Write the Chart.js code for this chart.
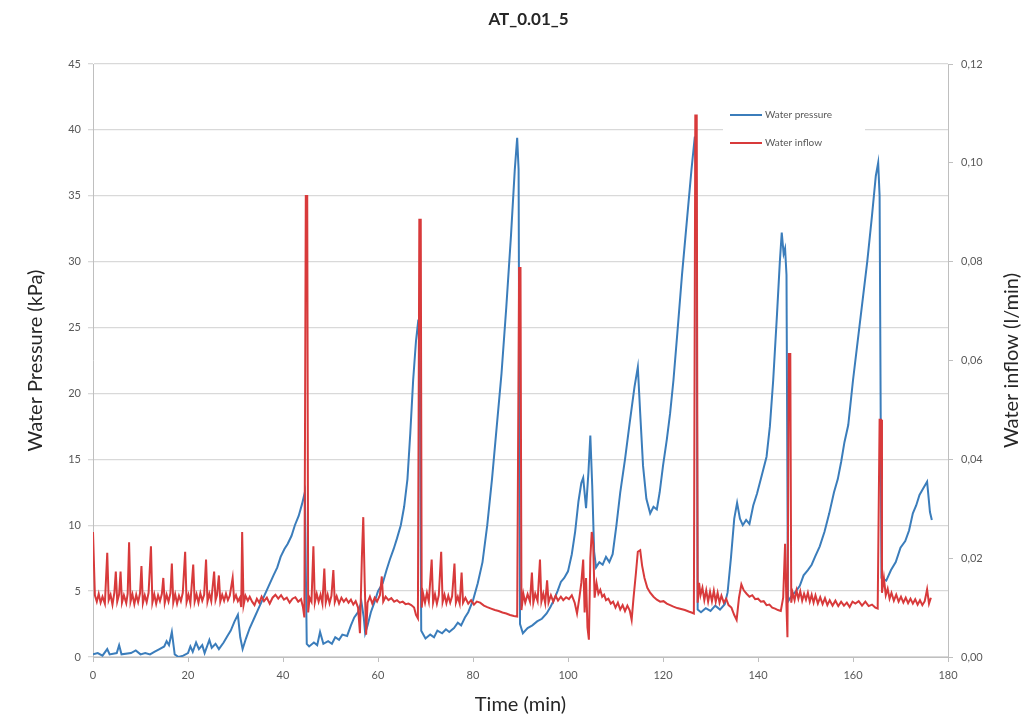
<!DOCTYPE html>
<html>
<head>
<meta charset="utf-8">
<script src="https://cdn.jsdelivr.net/npm/chart.js@4/dist/chart.umd.min.js"></script>
<style>
  html, body { margin: 0; padding: 0; background: #fff; }
  #wrap { width: 1025px; height: 724px; }
</style>
</head>
<body>
<div id="wrap"><canvas id="atChart" width="1025" height="724"></canvas></div>
<script>
// tick values
var timeTicks = [0, 20, 40, 60, 80, 100, 120, 140, 160, 180];
var pressureTicks = [0, 5, 10, 15, 20, 25, 30, 35, 40, 45];
var inflowTicks = [0, 0.02, 0.04, 0.06, 0.08, 0.10, 0.12];

// water pressure, [time (min), kPa]
var pressure = [
  [0,0.2],[1,0.3],[2,0.1],[3,0.6],[3.5,0.2],[5,0.3],[5.5,0.9],[6,0.2],[8,0.3],[9,0.5],
  [10,0.2],[11,0.3],[12,0.2],[13,0.4],[14,0.6],[15,0.8],[15.5,1.2],[16,0.9],[16.6,1.9],[17.2,0.2],
  [18,0],[19,0.1],[20,0.3],[20.5,0.8],[21,0.4],[21.7,1.1],[22.3,0.6],[23,0.9],[23.5,0.3],[24.5,1.3],
  [25,0.7],[25.8,1.0],[26.5,0.6],[27.5,1.1],[28.3,1.6],[29,2.0],[29.8,2.7],[30.5,3.2],[31,1.5],[31.5,0.6],
  [32.2,1.4],[33,2.2],[34,3.0],[35,3.8],[36,4.6],[37,5.4],[38,6.2],[38.8,6.8],[39.5,7.6],[40.3,8.2],
  [41,8.6],[41.8,9.2],[42.5,10.0],[43.3,10.7],[44,11.6],[44.6,12.5],[45,1.0],[45.5,0.8],[46.5,1.1],[47.2,0.9],
  [47.8,1.9],[48.5,1.0],[49.5,1.2],[50.3,1.0],[51,1.5],[51.8,1.3],[52.5,1.7],[53.5,1.6],[54.3,2.4],[55,3.0],
  [55.8,3.4],[56.5,4.2],[57,3.0],[57.3,1.8],[57.8,2.4],[58.5,3.4],[59.3,4.2],[60,5.0],[61,5.6],[61.8,6.6],
  [62.5,7.4],[63.3,8.2],[64,9.0],[64.8,10.0],[65.5,11.4],[66.2,13.5],[66.8,17],[67.4,21],[68,24],[68.5,25.6],
  [68.8,22],[69.1,2.0],[70,1.4],[71,1.7],[71.8,1.5],[72.5,2.0],[73.5,1.8],[74.3,2.1],[75,1.9],[76,2.2],
  [76.8,2.6],[77.5,2.4],[78.3,3.0],[79,3.4],[80,4.3],[81,5.6],[82,7.2],[83,10.0],[84,13.5],[85,17.5],
  [86,21.5],[87,26.5],[88,32],[88.8,37],[89.3,39.4],[89.6,37],[89.9,2.5],[90.5,1.8],[91.5,2.2],[92.5,2.4],
  [93.5,2.7],[94.5,2.9],[95.5,3.3],[96.3,3.8],[97,4.3],[97.8,5.0],[98.5,5.7],[99.2,6.0],[100,6.5],[100.8,7.8],
  [101.5,9.5],[102.2,11.8],[102.8,13.2],[103.2,13.6],[103.8,11.3],[104.3,14],[104.7,16.8],[105.1,13],[105.5,8],[105.9,6.8],
  [106.6,7.2],[107.3,7.0],[108,7.6],[108.7,7.2],[109.4,7.8],[110.2,10.0],[111,12.5],[112,15.0],[113,17.8],[114,20.5],
  [114.7,22.0],[115.2,18.5],[115.8,14.5],[116.5,12.0],[117.3,10.9],[118,11.4],[118.7,11.2],[119.3,12.5],[120,14.5],[120.8,16.5],
  [121.5,18.5],[122.2,21],[123,24.5],[124,29],[125,33],[126,37],[126.7,39.5],[127,36],[127.3,3.6],[128,3.4],
  [129,3.7],[130,3.5],[131,3.9],[132,3.6],[133,4.0],[133.6,4.9],[134.3,7.5],[135,10.5],[135.6,11.7],[136.2,10.5],
  [136.8,10.0],[137.5,10.4],[138.2,10.1],[139,11.5],[139.8,12.4],[140.8,13.8],[141.8,15.2],[142.5,17.5],[143.2,21],[144,26],
  [144.6,30],[145,32.2],[145.4,30.6],[145.7,31],[146,29],[146.3,4.2],[147,4.6],[148,5.0],[148.8,5.4],[149.6,6.2],
  [150.5,6.6],[151.3,7.0],[152,7.6],[153,8.4],[154,9.5],[155,10.9],[156,12.5],[156.8,13.5],[157.5,14.8],[158.2,16.3],
  [159,17.6],[160,21],[161,24],[162,27],[163,30],[164,33.5],[164.8,36.5],[165.3,37.5],[165.6,35],[166,6.0],
  [167,5.8],[168,6.6],[169,7.2],[170,8.3],[171,8.8],[171.8,9.6],[172.6,10.9],[173.3,11.5],[174,12.3],[174.8,12.8],
  [175.6,13.3],[176.2,11.0],[176.6,10.4]
];

// water inflow, [time (min), l/min]
var inflow = [
  [0,0.0253],[0.4,0.0125],[0.8,0.0112],[1.2,0.0128],[1.6,0.0110],[2.0,0.0122],[2.5,0.0108],[3.0,0.0211],[3.3,0.0115],[3.7,0.0126],
  [4.1,0.0106],[4.5,0.0130],[4.8,0.0173],[5.1,0.0112],[5.5,0.0127],[5.8,0.0173],[6.1,0.0110],[6.5,0.0125],[7.0,0.0109],[7.3,0.0128],
  [7.6,0.0232],[7.9,0.0112],[8.3,0.0127],[8.7,0.0107],[9.1,0.0126],[9.5,0.0111],[9.9,0.0129],[10.2,0.0184],[10.5,0.0109],[10.9,0.0125],
  [11.3,0.0111],[11.7,0.0130],[12.2,0.0224],[12.5,0.0110],[12.9,0.0127],[13.3,0.0108],[13.7,0.0125],[14.1,0.0113],[14.5,0.0128],[14.8,0.0160],
  [15.1,0.0109],[15.5,0.0126],[15.9,0.0112],[16.3,0.0129],[16.6,0.0189],[16.9,0.0110],[17.3,0.0127],[17.7,0.0108],[18.1,0.0124],[18.5,0.0113],
  [18.9,0.0130],[19.4,0.0213],[19.7,0.0111],[20.1,0.0126],[20.5,0.0109],[21.1,0.0187],[21.4,0.0112],[21.8,0.0127],[22.2,0.0110],[22.6,0.0129],
  [23.0,0.0114],[23.4,0.0126],[23.8,0.0197],[24.1,0.0112],[24.5,0.0128],[24.9,0.0113],[25.5,0.0173],[25.8,0.0115],[26.1,0.0125],[26.5,0.0165],
  [26.8,0.0112],[27.2,0.0126],[27.6,0.0114],[28.0,0.0128],[28.4,0.0115],[28.8,0.0124],[29.4,0.0160],[29.7,0.0116],[30.1,0.0125],[30.5,0.0113],
  [30.9,0.0120],[31.2,0.0101],[31.4,0.0253],[31.7,0.0105],[32.1,0.0124],[32.6,0.0114],[33.0,0.0122],[33.5,0.0112],[34.0,0.0105],[34.5,0.0118],
  [35.0,0.0110],[35.5,0.0122],[36.0,0.0113],[36.6,0.0120],[37.2,0.0108],[37.8,0.0120],[38.4,0.0126],[39.0,0.0118],[39.6,0.0125],[40.2,0.0116],
  [40.8,0.0120],[41.4,0.0110],[42.0,0.0118],[42.6,0.0121],[43.2,0.0112],[43.8,0.0117],[44.2,0.0101],[44.5,0.0080],[44.8,0.0933],[45.1,0.0933],
  [45.3,0.0090],[45.6,0.0120],[46.0,0.0112],[46.4,0.0224],[46.7,0.0110],[47.1,0.0128],[47.5,0.0112],[47.9,0.0126],[48.3,0.0108],[48.7,0.0179],
  [49.0,0.0110],[49.4,0.0126],[49.8,0.0109],[50.2,0.0124],[50.6,0.0176],[50.9,0.0111],[51.3,0.0123],[51.8,0.0108],[52.3,0.0120],[52.8,0.0112],
  [53.3,0.0118],[53.8,0.0110],[54.3,0.0116],[54.8,0.0106],[55.3,0.0113],[55.8,0.0100],[56.2,0.0048],[56.6,0.0200],[56.9,0.0283],[57.2,0.0150],
  [57.5,0.0045],[57.8,0.0110],[58.3,0.0122],[58.8,0.0108],[59.3,0.0120],[59.8,0.0112],[60.4,0.0125],[60.8,0.0163],[61.1,0.0112],[61.6,0.0122],
  [62.2,0.0115],[62.8,0.0119],[63.4,0.0112],[64.0,0.0115],[64.6,0.0110],[65.2,0.0112],[65.8,0.0107],[66.4,0.0108],[67.0,0.0105],[67.6,0.0100],
  [68.0,0.0085],[68.4,0.0078],[68.7,0.0885],[69.0,0.0885],[69.2,0.0100],[69.5,0.0128],[69.9,0.0110],[70.3,0.0130],[70.7,0.0112],[71.3,0.0197],
  [71.6,0.0110],[72.0,0.0127],[72.4,0.0108],[72.8,0.0125],[73.3,0.0213],[73.6,0.0111],[74.0,0.0126],[74.4,0.0109],[74.8,0.0124],[75.2,0.0110],
  [75.6,0.0123],[76.1,0.0189],[76.4,0.0110],[76.8,0.0122],[77.2,0.0108],[77.6,0.0171],[77.9,0.0110],[78.4,0.0120],[79.0,0.0108],[79.6,0.0115],
  [80.2,0.0106],[80.8,0.0112],[81.5,0.0110],[82.3,0.0104],[83.0,0.0101],[83.8,0.0098],[84.6,0.0095],[85.4,0.0093],[86.2,0.0090],[87.0,0.0088],
  [87.8,0.0085],[88.6,0.0083],[89.3,0.0082],[89.7,0.0787],[90.0,0.0787],[90.2,0.0095],[90.6,0.0128],[91.0,0.0110],[91.5,0.0127],[92.0,0.0112],
  [92.4,0.0171],[92.7,0.0110],[93.1,0.0128],[93.6,0.0113],[94.1,0.0197],[94.4,0.0112],[94.8,0.0128],[95.2,0.0109],[95.6,0.0155],[95.9,0.0110],
  [96.4,0.0125],[96.9,0.0112],[97.4,0.0124],[97.9,0.0114],[98.5,0.0122],[99.0,0.0115],[99.6,0.0121],[100.2,0.0117],[100.8,0.0125],[101.4,0.0110],
  [101.9,0.0088],[102.4,0.0120],[102.8,0.0150],[103.2,0.0197],[103.5,0.0090],[103.8,0.0160],[104.1,0.0060],[104.4,0.0035],[104.7,0.0200],[105.0,0.0253],
  [105.3,0.0230],[105.6,0.0120],[106.0,0.0150],[106.4,0.0128],[106.8,0.0136],[107.2,0.0122],[107.6,0.0126],[108.0,0.0115],[108.5,0.0118],[109.0,0.0108],
  [109.5,0.0112],[110.0,0.0100],[110.5,0.0110],[111.0,0.0096],[111.5,0.0105],[112.0,0.0093],[112.5,0.0104],[113.0,0.0094],[113.4,0.0075],[113.8,0.0120],
  [114.3,0.0170],[114.7,0.0213],[115.2,0.0216],[115.6,0.0185],[116.1,0.0160],[116.7,0.0140],[117.3,0.0130],[118.0,0.0122],[118.7,0.0116],[119.4,0.0112],
  [120.1,0.0113],[120.8,0.0108],[121.5,0.0105],[122.2,0.0102],[123.0,0.0099],[123.8,0.0097],[124.6,0.0095],[125.4,0.0092],[126.0,0.0090],[126.5,0.0088],
  [126.8,0.1096],[127.1,0.1096],[127.3,0.0110],[127.6,0.0150],[127.9,0.0125],[128.3,0.0140],[128.7,0.0115],[129.1,0.0135],[129.5,0.0112],[129.9,0.0132],
  [130.3,0.0113],[130.7,0.0134],[131.1,0.0112],[131.5,0.0130],[131.9,0.0110],[132.3,0.0124],[132.8,0.0110],[133.3,0.0118],[133.8,0.0105],[134.4,0.0100],
  [135.0,0.0085],[135.5,0.0075],[136.0,0.0120],[136.5,0.0147],[137.0,0.0135],[137.6,0.0128],[138.2,0.0122],[138.8,0.0125],[139.4,0.0117],[140.0,0.0118],
  [140.6,0.0112],[141.2,0.0113],[141.8,0.0105],[142.4,0.0106],[143.0,0.0100],[143.6,0.0098],[144.2,0.0095],[144.8,0.0093],[145.3,0.0120],[145.7,0.0229],
  [146.0,0.0100],[146.2,0.0040],[146.5,0.0613],[146.8,0.0613],[147.0,0.0110],[147.3,0.0130],[147.7,0.0115],[148.1,0.0135],[148.5,0.0118],[148.9,0.0133],
  [149.3,0.0114],[149.7,0.0128],[150.1,0.0116],[150.5,0.0130],[150.9,0.0112],[151.3,0.0126],[151.7,0.0110],[152.1,0.0125],[152.6,0.0108],[153.1,0.0121],
  [153.6,0.0107],[154.1,0.0119],[154.6,0.0105],[155.1,0.0115],[155.7,0.0104],[156.3,0.0114],[156.9,0.0103],[157.5,0.0112],[158.1,0.0104],[158.7,0.0110],
  [159.3,0.0101],[159.9,0.0112],[160.5,0.0108],[161.2,0.0113],[161.9,0.0104],[162.6,0.0112],[163.3,0.0103],[164.0,0.0106],[164.7,0.0100],[165.2,0.0098],
  [165.6,0.0480],[165.9,0.0480],[166.1,0.0130],[166.5,0.0160],[166.9,0.0125],[167.3,0.0138],[167.7,0.0118],[168.1,0.0130],[168.6,0.0114],[169.1,0.0126],
  [169.6,0.0112],[170.1,0.0122],[170.6,0.0110],[171.1,0.0120],[171.6,0.0109],[172.1,0.0118],[172.6,0.0108],[173.1,0.0117],[173.6,0.0106],[174.1,0.0115],
  [174.6,0.0105],[175.1,0.0113],[175.6,0.0137],[176.0,0.0108],[176.4,0.0120]
];

var FONT = "Lato, 'Open Sans', sans-serif";
var tickFont = { family: FONT, size: 11 };
var tickColor = "#595959";
var axisColor = "#bfbfbf";

function fixTicks(values) {
  return function (scale) {
    scale.ticks = values.map(function (v) { return { value: v }; });
  };
}

// legend box inside the plot, upper right
var boxLegend = {
  id: "boxLegend",
  afterDraw: function (chart) {
    var ctx = chart.ctx;
    ctx.save();
    ctx.fillStyle = "#ffffff";
    ctx.fillRect(723, 95, 142, 62);
    ctx.font = "10px " + FONT;
    ctx.textBaseline = "middle";
    chart.data.datasets.forEach(function (ds, i) {
      var y = 115 + i * 28;
      ctx.strokeStyle = ds.borderColor;
      ctx.lineWidth = 2;
      ctx.beginPath();
      ctx.moveTo(730, y);
      ctx.lineTo(762, y);
      ctx.stroke();
      ctx.fillStyle = tickColor;
      ctx.fillText(ds.label, 765, y);
    });
    ctx.restore();
  }
};

// right axis title reads bottom to top like the left one
var rightTitle = {
  id: "rightTitle",
  afterDraw: function (chart) {
    var ctx = chart.ctx;
    var area = chart.chartArea;
    ctx.save();
    ctx.translate(1012, (area.top + area.bottom) / 2);
    ctx.rotate(-Math.PI / 2);
    ctx.font = "20px " + FONT;
    ctx.fillStyle = "#262626";
    ctx.textAlign = "center";
    ctx.textBaseline = "middle";
    ctx.fillText("Water inflow (l/min)", 0, 0);
    ctx.restore();
  }
};

var ctx = document.getElementById("atChart").getContext("2d");
var atChart = new Chart(ctx, {
  type: "line",
  data: {
    datasets: [
      {
        label: "Water pressure",
        data: pressure.map(function (p) { return { x: p[0], y: p[1] }; }),
        yAxisID: "y",
        borderColor: "#3b7dbb",
        borderWidth: 2,
        pointRadius: 0,
        tension: 0,
        order: 2,
      },
      {
        label: "Water inflow",
        data: inflow.map(function (p) { return { x: p[0], y: p[1] }; }),
        yAxisID: "y1",
        borderColor: "#d83a3b",
        borderWidth: 2,
        pointRadius: 0,
        tension: 0,
        order: 1,
      },
    ],
  },
  options: {
    responsive: false,
    animation: false,
    layout: { padding: { left: 32, right: 0, top: 0, bottom: 0 } },
    plugins: {
      legend: { display: false },
      tooltip: { enabled: false },
      title: {
        display: true,
        text: "AT_0.01_5",
        color: "#262626",
        font: { family: FONT, size: 17, weight: "bold" },
        padding: { top: 9, bottom: 34.6 },
      },
    },
    scales: {
      x: {
        type: "linear",
        min: 0,
        max: 180,
        afterBuildTicks: fixTicks(timeTicks),
        afterFit: function (s) { s.height = 67; },
        ticks: { color: tickColor, font: tickFont, padding: 7, maxRotation: 0 },
        grid: { drawOnChartArea: false, color: axisColor, tickLength: 5 },
        border: { color: axisColor },
        title: {
          display: true,
          text: "Time (min)",
          color: "#262626",
          font: { family: FONT, size: 20 },
          padding: { top: 0, bottom: 7 },
        },
      },
      y: {
        position: "left",
        min: 0,
        max: 45,
        afterBuildTicks: fixTicks(pressureTicks),
        afterFit: function (s) { s.width = 61; },
        ticks: { color: tickColor, font: tickFont, padding: 7 },
        grid: { color: "#d9d9d9", lineWidth: 1.3, tickLength: 5 },
        border: { color: axisColor },
        title: {
          display: true,
          text: "Water Pressure (kPa)",
          color: "#262626",
          font: { family: FONT, size: 20 },
          padding: { top: -8, bottom: 0 },
        },
      },
      y1: {
        position: "right",
        min: 0,
        max: 0.12,
        afterBuildTicks: fixTicks(inflowTicks),
        afterFit: function (s) { s.width = 77; },
        ticks: {
          color: tickColor,
          font: tickFont,
          padding: 8,
          callback: function (v) { return v.toFixed(2).replace(".", ","); },
        },
        grid: { drawOnChartArea: false, color: axisColor, tickLength: 5 },
        border: { color: axisColor },
      },
    },
  },
  plugins: [boxLegend, rightTitle],
});
</script>
</body>
</html>
